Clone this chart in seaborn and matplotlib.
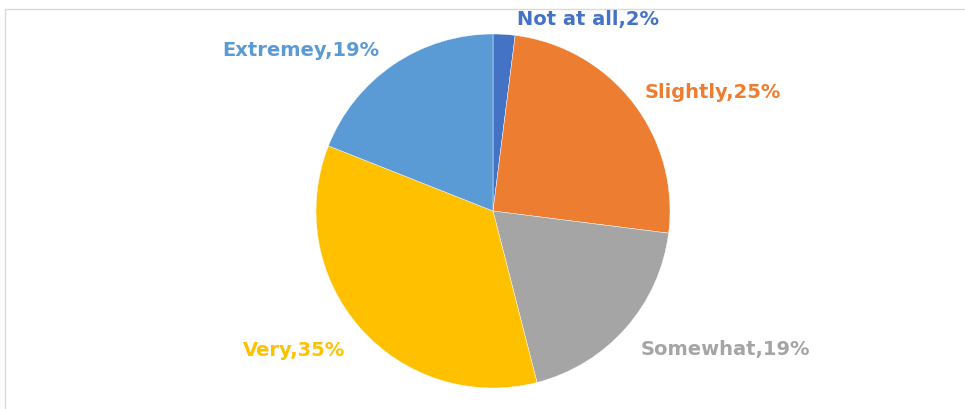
import matplotlib
matplotlib.use("Agg")
import matplotlib.pyplot as plt
import seaborn as sns
from matplotlib.patches import Rectangle

categories = ["Not at all", "Slightly", "Somewhat", "Very", "Extremey"]
values = [2, 25, 19, 35, 19]
colors = ["#4472C4", "#ED7D31", "#A5A5A5", "#FFC000", "#5B9BD5"]
label_colors = ["#4472C4", "#ED7D31", "#A5A5A5", "#FFC000", "#5B9BD5"]

sns.set_theme(style="white")
plt.rcParams["font.family"] = ["DejaVu Sans"]

W, H = 965, 409
fig = plt.figure(figsize=(W / 100, H / 100), dpi=100)
fig.patch.set_facecolor("white")

# light frame
fig.add_artist(Rectangle((5 / W, -0.1), 1.2, (H - 9) / H + 0.1, transform=fig.transFigure,
                         fill=False, edgecolor="#D9D9D9", linewidth=1))

cx, cy, r = 493, H - 211, 177
ax = fig.add_axes([(cx - r) / W, (cy - r) / H, 2 * r / W, 2 * r / H])
ax.pie(values, colors=sns.color_palette(colors), startangle=90, counterclock=False,
       radius=1, wedgeprops=dict(linewidth=0.3, edgecolor="white"))
ax.set_xlim(-1, 1)
ax.set_ylim(-1, 1)
ax.set_aspect("equal")
ax.axis("off")

label_pos = [(588, 20), (713, 93), (725, 350), (294, 350), (301, 50)]
for cat, v, c, (px, py) in zip(categories, values, label_colors, label_pos):
    fig.text(px / W, 1 - py / H, f"{cat},{v}%", color=c, fontsize=14,
             fontweight="bold", ha="center", va="center")

fig.savefig("out.png", dpi=100, facecolor="white")
